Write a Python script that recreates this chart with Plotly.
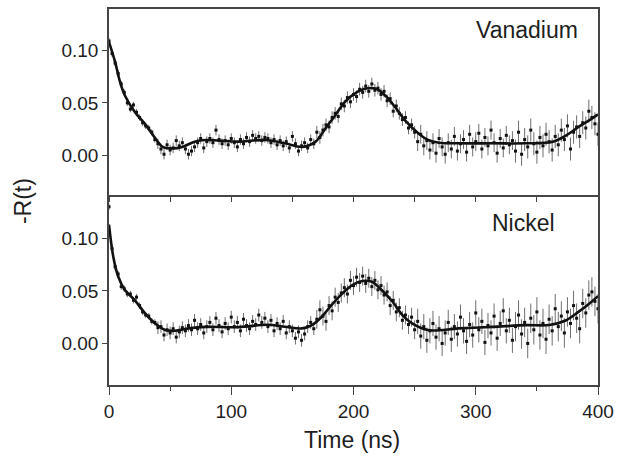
import plotly.graph_objects as go
from plotly.subplots import make_subplots

# ---- data ----
t_points = [i * 2.5 for i in range(161)]  # sample times (ns), 2.5 ns spacing as read

vanadium_r = [
    0.109, 0.097, 0.088, 0.078, 0.068, 0.060, 0.050, 0.044, 0.048, 0.041,
    0.036, 0.031, 0.028, 0.026, 0.022, 0.015, 0.011, 0.006, 0.001, 0.010,
    0.005, 0.007, 0.014, 0.009, 0.012, 0.006, 0.001, 0.004, 0.008, 0.012,
    0.016, 0.007, 0.013, 0.016, 0.012, 0.024, 0.015, 0.011, 0.014, 0.010,
    0.016, 0.012, 0.008, 0.015, 0.011, 0.017, 0.013, 0.019, 0.016, 0.018,
    0.014, 0.017, 0.016, 0.012, 0.015, 0.010, 0.014, 0.009, 0.013, 0.007,
    0.018, 0.011, 0.004, 0.009, 0.012, 0.007, 0.015, 0.011, 0.022, 0.017,
    0.024, 0.029, 0.027, 0.036, 0.040, 0.037, 0.049, 0.047, 0.055, 0.051,
    0.058, 0.056, 0.063, 0.060, 0.066, 0.061, 0.068, 0.062, 0.064, 0.058,
    0.061, 0.052, 0.054, 0.042, 0.047, 0.040, 0.034, 0.036, 0.026, 0.029,
    0.022, 0.013, 0.020, 0.009, 0.014, 0.005, 0.012, 0.002, 0.016, 0.008,
    0.001, 0.012, 0.006, 0.018, 0.004, 0.011, 0.015, 0.003, 0.020, 0.008,
    0.013, 0.021, 0.006, 0.017, 0.009, 0.024, 0.012, 0.002, 0.016, 0.007,
    0.019, 0.010, 0.014, 0.004, 0.022, 0.001, 0.015, 0.008, 0.024, 0.011,
    0.003, 0.017, 0.009, 0.020, 0.013, 0.005, 0.018, 0.010, 0.024, 0.015,
    0.028, 0.006, 0.022, 0.027, 0.018, 0.031, 0.026, 0.042, 0.036, 0.030,
    0.020,
]
vanadium_err = [
    0.003, 0.003, 0.003, 0.003, 0.003, 0.003, 0.003, 0.003, 0.003, 0.003,
    0.003, 0.003, 0.003, 0.003, 0.003, 0.003, 0.005, 0.005, 0.005, 0.005,
    0.005, 0.005, 0.005, 0.005, 0.005, 0.005, 0.005, 0.005, 0.005, 0.005,
    0.005, 0.005, 0.005, 0.005, 0.005, 0.005, 0.005, 0.005, 0.005, 0.005,
    0.005, 0.005, 0.005, 0.005, 0.005, 0.005, 0.005, 0.005, 0.005, 0.005,
    0.005, 0.005, 0.005, 0.005, 0.005, 0.005, 0.005, 0.005, 0.005, 0.005,
    0.005, 0.005, 0.005, 0.005, 0.005, 0.005, 0.005, 0.005, 0.006, 0.006,
    0.006, 0.006, 0.006, 0.006, 0.006, 0.006, 0.006, 0.006, 0.006, 0.006,
    0.006, 0.006, 0.006, 0.006, 0.006, 0.006, 0.006, 0.006, 0.006, 0.006,
    0.006, 0.006, 0.006, 0.006, 0.006, 0.006, 0.006, 0.006, 0.006, 0.006,
    0.006, 0.009, 0.009, 0.009, 0.009, 0.009, 0.009, 0.009, 0.009, 0.009,
    0.009, 0.009, 0.009, 0.009, 0.009, 0.009, 0.009, 0.009, 0.009, 0.009,
    0.009, 0.009, 0.009, 0.009, 0.009, 0.009, 0.009, 0.009, 0.009, 0.009,
    0.009, 0.009, 0.009, 0.011, 0.011, 0.011, 0.011, 0.011, 0.011, 0.011,
    0.011, 0.011, 0.011, 0.011, 0.011, 0.011, 0.011, 0.011, 0.011, 0.011,
    0.011, 0.011, 0.011, 0.011, 0.011, 0.011, 0.011, 0.011, 0.011, 0.011,
    0.011,
]

nickel_r = [
    0.130, 0.090, 0.073, 0.066, 0.054, 0.052, 0.047, 0.047, 0.041, 0.044,
    0.036, 0.030, 0.027, 0.026, 0.021, 0.020, 0.015, 0.016, 0.008, 0.013,
    0.010, 0.014, 0.006, 0.011, 0.015, 0.012, 0.017, 0.013, 0.022, 0.014,
    0.018, 0.010, 0.016, 0.020, 0.013, 0.024, 0.017, 0.011, 0.019, 0.014,
    0.025, 0.016, 0.020, 0.012, 0.023, 0.017, 0.014, 0.021, 0.018, 0.027,
    0.020, 0.024, 0.016, 0.022, 0.012, 0.019, 0.014, 0.021, 0.010, 0.016,
    0.012, 0.005, 0.011, 0.003, 0.009, 0.016, 0.020, 0.014, 0.023, 0.032,
    0.026, 0.021, 0.036, 0.031, 0.044, 0.039, 0.048, 0.053, 0.047, 0.060,
    0.055, 0.063, 0.058, 0.064, 0.057, 0.062, 0.054, 0.060, 0.051, 0.055,
    0.046, 0.049, 0.036, 0.041, 0.030, 0.034, 0.022, 0.027, 0.018, 0.025,
    0.013, 0.021, 0.007, 0.016, 0.003, 0.012, 0.019, 0.006, 0.014, 0.000,
    0.010, 0.020, 0.004, 0.016, 0.009, 0.025, 0.012, 0.002, 0.018, 0.008,
    0.029, 0.013, 0.021, 0.001, 0.017, 0.010, 0.026, 0.005, 0.019, 0.031,
    0.012, 0.022, 0.003, 0.016, 0.027, 0.009, 0.020, 0.000, 0.024, 0.013,
    0.030, 0.008, 0.019, 0.004, 0.023, 0.012, 0.033, 0.016, 0.026, 0.010,
    0.030, 0.019, 0.036, 0.024, 0.014, 0.038, 0.029, 0.046, 0.049, 0.040,
    0.033,
]
nickel_err = [
    0.003, 0.003, 0.003, 0.003, 0.003, 0.003, 0.003, 0.003, 0.003, 0.003,
    0.003, 0.003, 0.003, 0.003, 0.003, 0.003, 0.006, 0.006, 0.006, 0.006,
    0.006, 0.006, 0.006, 0.006, 0.006, 0.006, 0.006, 0.006, 0.006, 0.006,
    0.006, 0.006, 0.006, 0.006, 0.006, 0.006, 0.006, 0.006, 0.006, 0.006,
    0.006, 0.006, 0.006, 0.006, 0.006, 0.006, 0.006, 0.006, 0.006, 0.006,
    0.006, 0.006, 0.006, 0.006, 0.006, 0.006, 0.006, 0.006, 0.006, 0.006,
    0.006, 0.006, 0.006, 0.006, 0.006, 0.006, 0.006, 0.006, 0.009, 0.009,
    0.009, 0.009, 0.009, 0.009, 0.009, 0.009, 0.009, 0.009, 0.009, 0.009,
    0.009, 0.009, 0.009, 0.009, 0.009, 0.009, 0.009, 0.009, 0.009, 0.009,
    0.009, 0.009, 0.009, 0.009, 0.009, 0.009, 0.009, 0.009, 0.009, 0.009,
    0.009, 0.012, 0.012, 0.012, 0.012, 0.012, 0.012, 0.012, 0.012, 0.012,
    0.012, 0.012, 0.012, 0.012, 0.012, 0.012, 0.012, 0.012, 0.012, 0.012,
    0.012, 0.012, 0.012, 0.012, 0.012, 0.012, 0.012, 0.012, 0.012, 0.012,
    0.012, 0.012, 0.012, 0.014, 0.014, 0.014, 0.014, 0.014, 0.014, 0.014,
    0.014, 0.014, 0.014, 0.014, 0.014, 0.014, 0.014, 0.014, 0.014, 0.014,
    0.014, 0.014, 0.014, 0.014, 0.014, 0.014, 0.014, 0.014, 0.014, 0.014,
    0.014,
]

# fitted curves
vanadium_fit_t = [0, 5, 9, 13, 21, 30, 38, 44, 51, 60, 70, 79, 90, 106, 128, 144,
                  158, 169, 177, 185, 193, 201, 210, 218, 226, 234, 242, 253, 261,
                  270, 286, 314, 341, 363, 374, 384, 395, 400]
vanadium_fit = [0.108, 0.089, 0.070, 0.057, 0.0415, 0.029, 0.016, 0.008, 0.0066,
                0.008, 0.013, 0.0146, 0.014, 0.013, 0.0146, 0.0114, 0.008, 0.013,
                0.0256, 0.038, 0.051, 0.0588, 0.0636, 0.0636, 0.057, 0.046, 0.0336,
                0.021, 0.0146, 0.012, 0.0114, 0.0114, 0.0114, 0.013, 0.019, 0.027,
                0.035, 0.039]

nickel_fit_t = [0, 3.5, 7.6, 13, 21, 29.5, 37.7, 46, 54, 65, 79, 106, 130, 144,
                158, 166, 174, 182, 191, 199, 207, 215, 223, 232, 240, 248, 261,
                286, 314, 341, 360, 374, 384, 393, 400]
nickel_fit = [0.113, 0.0825, 0.0634, 0.0508, 0.0412, 0.0286, 0.019, 0.0127, 0.012,
              0.0143, 0.0158, 0.0155, 0.0178, 0.0158, 0.0143, 0.0174, 0.0254,
              0.0365, 0.0476, 0.0555, 0.0593, 0.0587, 0.0508, 0.0396, 0.027,
              0.019, 0.0127, 0.0143, 0.0158, 0.0174, 0.0175, 0.022, 0.030, 0.038,
              0.045]

x_ticks = [0, 100, 200, 300, 400]
y_ticks = [0.00, 0.05, 0.10]

# ---- figure ----
FONT = "Arial, Liberation Sans, sans-serif"
AX = "#454545"
TXT = "#1e1e1e"

fig = make_subplots(rows=2, cols=1, shared_xaxes=True, vertical_spacing=0)

panels = [
    (1, vanadium_r, vanadium_err, vanadium_fit_t, vanadium_fit),
    (2, nickel_r, nickel_err, nickel_fit_t, nickel_fit),
]
for row, vals, errs, ft, fv in panels:
    fig.add_trace(go.Scatter(
        x=t_points, y=vals, mode="markers",
        marker=dict(symbol="square", size=3, color="#111111"),
        error_y=dict(type="data", array=errs, visible=True,
                     color="#6e6e6e", thickness=1, width=0),
        showlegend=False, hoverinfo="skip"), row=row, col=1)
    fig.add_trace(go.Scatter(
        x=ft, y=fv, mode="lines",
        line=dict(color="#111111", width=2.6, shape="spline", smoothing=1.0),
        showlegend=False, hoverinfo="skip"), row=row, col=1)

common_axis = dict(showline=True, linecolor=AX, linewidth=1.5,
                   showgrid=False, zeroline=False, tickcolor=AX, tickwidth=1.3,
                   tickfont=dict(family=FONT, size=19, color=TXT))

fig.update_xaxes(range=[0, 400], **common_axis)
fig.update_xaxes(row=1, col=1, mirror=True, ticks="outside", ticklen=5, dtick=50,
                 tick0=0, showticklabels=False)
fig.update_xaxes(row=2, col=1, mirror=False, ticks="outside", ticklen=8,
                 tickvals=x_ticks, ticktext=[str(v) for v in x_ticks],
                 minor=dict(ticks="outside", ticklen=4, dtick=50, tick0=0,
                            tickcolor=AX, tickwidth=1.3))

fig.update_yaxes(mirror=True, ticks="outside", ticklen=5, tickvals=y_ticks,
                 ticktext=[f"{v:.2f}" for v in y_ticks], **common_axis)
fig.update_yaxes(row=1, col=1, range=[-0.038, 0.1395], domain=[0.505, 1.0])
fig.update_yaxes(row=2, col=1, range=[-0.0395, 0.141], domain=[0.0, 0.505])

fig.add_annotation(text="Vanadium", xref="paper", yref="paper", x=0.963, y=0.944,
                   xanchor="right", yanchor="middle", showarrow=False,
                   font=dict(family=FONT, size=23, color=TXT))
fig.add_annotation(text="Nickel", xref="paper", yref="paper", x=0.916, y=0.431,
                   xanchor="right", yanchor="middle", showarrow=False,
                   font=dict(family=FONT, size=23, color=TXT))
fig.add_annotation(text="-R(t)", xref="paper", yref="paper", x=-0.176, y=0.489,
                   xanchor="center", yanchor="middle", textangle=-90,
                   showarrow=False, font=dict(family=FONT, size=23, color=TXT))
fig.add_annotation(text="Time (ns)", xref="paper", yref="paper", x=0.497, y=-0.147,
                   xanchor="center", yanchor="middle", showarrow=False,
                   font=dict(family=FONT, size=23, color=TXT))

fig.update_layout(width=623, height=457,
                  margin=dict(l=109, r=25, t=7, b=72),
                  paper_bgcolor="white", plot_bgcolor="white",
                  font=dict(family=FONT, color=TXT), hovermode=False)

fig.write_html("out.html", config={"displayModeBar": False},
               post_script="document.body.style.margin='0';"
                           "document.body.style.overflow='hidden';")
